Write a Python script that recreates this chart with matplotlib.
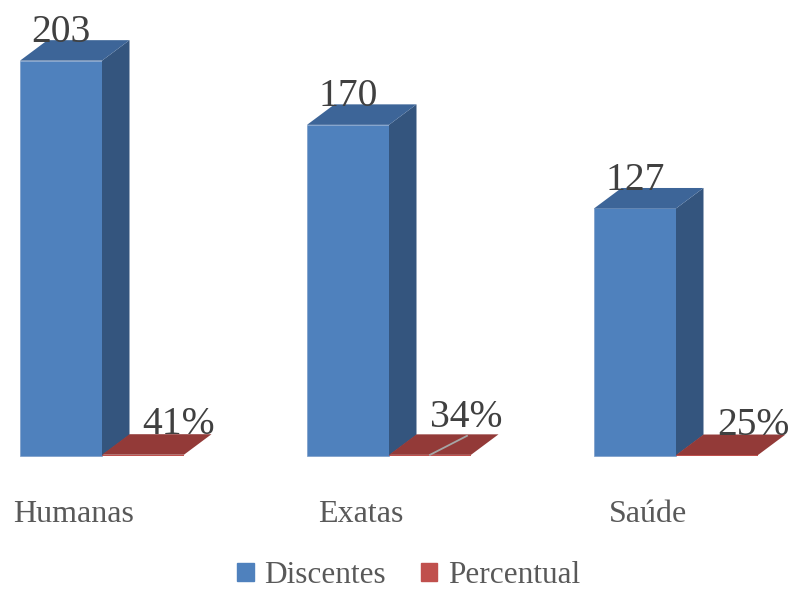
import matplotlib
matplotlib.use("Agg")
import matplotlib.pyplot as plt
from matplotlib.patches import Polygon, Patch

# Data
categories = ["Humanas", "Exatas", "Saúde"]
discentes = [203, 170, 127]
percentual = [0.41, 0.34, 0.25]
percent_labels = ["41%", "34%", "25%"]
series_names = ["Discentes", "Percentual"]

# Styling
FONT = "Liberation Serif"
BLUE_FRONT, BLUE_SIDE, BLUE_TOP = "#4F81BD", "#34557E", "#3D6598"
RED_FRONT, RED_TOP = "#C0504D", "#933A38"
LABEL_COLOR = "#404040"
AXIS_TEXT = "#595959"

W_PX, H_PX = 795, 593
fig = plt.figure(figsize=(W_PX / 100, H_PX / 100), dpi=100)
ax = fig.add_axes([0, 0, 1, 1])

# Scale: one category step on x, value units on y
step_px, left_px, base_px, unit_px = 287.0, 20.0, 455.5, 1.945
ax.set_xlim(-left_px / step_px, (W_PX - left_px) / step_px)
ax.set_ylim(-(H_PX - base_px) / unit_px, base_px / unit_px)
ax.axis("off")

bar_w = 82.0 / step_px
dx = 27.5 / step_px          # depth offset along x
dy = 20.5 / unit_px          # depth offset along y

xs = list(range(len(categories)))
x_blue = [x for x in xs]
x_red = [x + bar_w for x in xs]

# Front faces
ax.bar(x_blue, discentes, width=bar_w, align="edge", color=BLUE_FRONT,
       edgecolor="#7A9CC8", linewidth=0.5, zorder=2)
ax.bar(x_red, percentual, width=bar_w, align="edge", color=RED_FRONT,
       linewidth=0, zorder=2)

for i in xs:
    x0, v = x_blue[i], discentes[i]
    side = Polygon([(x0 + bar_w, 0), (x0 + bar_w, v), (x0 + bar_w + dx, v + dy),
                    (x0 + bar_w + dx, dy)], closed=True, color=BLUE_SIDE, lw=0, zorder=2)
    top = Polygon([(x0, v), (x0 + bar_w, v), (x0 + bar_w + dx, v + dy),
                   (x0 + dx, v + dy)], closed=True, color=BLUE_TOP, lw=0, zorder=2)
    ax.add_patch(side)
    ax.add_patch(top)

    xr, p = x_red[i], percentual[i]
    rtop = Polygon([(xr, p), (xr + bar_w, p), (xr + bar_w + dx, p + dy),
                    (xr + dx, p + dy)], closed=True, color=RED_TOP, lw=0, zorder=3)
    ax.add_patch(rtop)

    # value labels
    ax.text(x0 + bar_w / 2, v + dy - 1.0, str(v), ha="center", va="baseline",
            fontsize=28.5, family=FONT, color=LABEL_COLOR, zorder=5)

    lift = 3.6 if i == 1 else 0.0
    lx = xr + 77.0 / step_px
    ax.text(lx, p + dy + lift, percent_labels[i], ha="center", va="baseline",
            fontsize=28.5, family=FONT, color=LABEL_COLOR, zorder=5)
    if lift:
        ax.plot([xr + bar_w / 2, xr + bar_w / 2 + 37.0 / step_px],
                [p, p + 19.0 / unit_px], color="#A6A6A6", lw=1.3, zorder=4)

    # category labels
    ax.text(x0 + 54.0 / step_px, -34.0, categories[i], ha="center", va="baseline",
            fontsize=23, family=FONT, color=AXIS_TEXT)

handles = [Patch(color=BLUE_FRONT), Patch(color=RED_FRONT)]
leg = fig.legend(handles, series_names, loc="center", bbox_to_anchor=(0.514, 0.03),
                 ncol=2, frameon=False, handlelength=0.52, handleheight=0.52,
                 handletextpad=0.35, columnspacing=1.1, borderaxespad=0,
                 borderpad=0, prop={"family": FONT, "size": 22.5})
for t in leg.get_texts():
    t.set_color(AXIS_TEXT)

fig.savefig("out.png", dpi=100)
